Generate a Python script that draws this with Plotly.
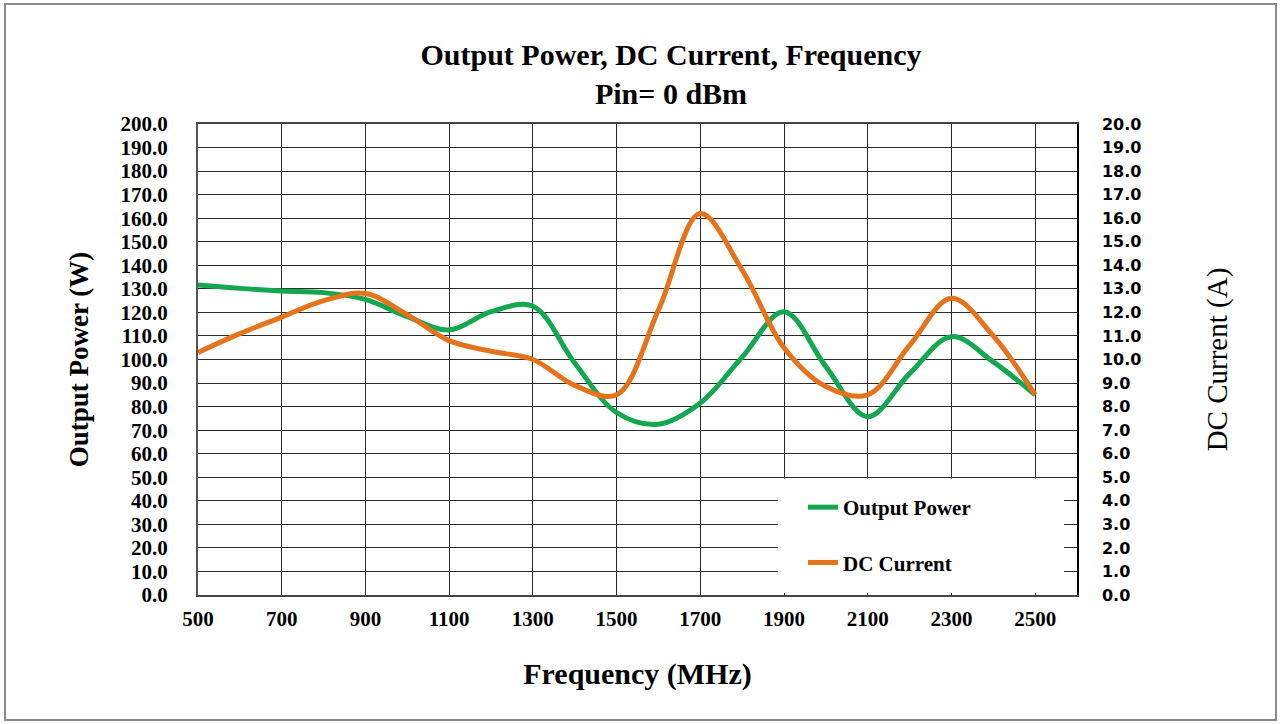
import plotly.graph_objects as go

# ---- data ----
freq_mhz = [500, 600, 700, 800, 900, 1000, 1100, 1200, 1300, 1400, 1500,
            1600, 1700, 1800, 1900, 2000, 2100, 2200, 2300, 2400, 2500]
output_power_w = [131.6, 130.2, 129.1, 128.4, 125.5, 118.2, 112.5, 120.3, 122.6, 98.5, 77.5,
                  72.5, 81.5, 101.0, 120.3, 97.0, 75.7, 94.0, 109.7, 99.0, 85.0]
dc_current_a = [10.3, 11.1, 11.8, 12.5, 12.8, 11.9, 10.8, 10.35, 10.0, 8.9, 8.5,
                12.1, 16.2, 13.8, 10.5, 8.85, 8.5, 10.6, 12.6, 11.0, 8.5]

x_tick_vals = [500, 700, 900, 1100, 1300, 1500, 1700, 1900, 2100, 2300, 2500]
x_tick_text = [str(v) for v in x_tick_vals]

title_text = "Output Power, DC Current, Frequency<br>Pin= 0 dBm"

GREEN = "#13A84F"
ORANGE = "#E5731B"
SERIF = "Liberation Serif"
GRID = "#2a2a2a"

W, H = 1281, 724
L, R, T, B = 198, 204, 124, 129
pw, ph = W - L - R, H - T - B


def px_x(px):
    return (px - L) / pw


def px_y(py):
    return (H - B - py) / ph


fig = go.Figure()
fig.add_trace(go.Scatter(
    x=freq_mhz, y=output_power_w, name="Output Power", legendgroup="p",
    mode="lines", line=dict(color=GREEN, width=5, shape="spline", smoothing=1.0),
    yaxis="y"))
fig.add_trace(go.Scatter(
    x=freq_mhz, y=dc_current_a, name="DC Current", legendgroup="c",
    mode="lines", line=dict(color=ORANGE, width=5, shape="spline", smoothing=1.0),
    yaxis="y2"))

fig.update_layout(
    width=W, height=H,
    margin=dict(l=L, r=R, t=T, b=B, autoexpand=False),
    paper_bgcolor="white", plot_bgcolor="white",
    title=dict(text=title_text, x=px_x(671), xref="paper", xanchor="center",
               y=1 - 65 / H, yref="container", yanchor="middle",
               font=dict(family=SERIF, size=30, color="black", weight="bold")),
    xaxis=dict(range=[500, 2600], dtick=100, tick0=500,
               showgrid=True, gridcolor=GRID, gridwidth=1.2,
               tickmode="array", tickvals=x_tick_vals, ticktext=x_tick_text,
               showline=True, linecolor="#444", linewidth=1.5, mirror=True,
               ticks="", ticklabelstandoff=4,
               tickfont=dict(family=SERIF, size=21, color="black", weight="bold"),
               title=dict(text="Frequency (MHz)", standoff=33,
                          font=dict(family=SERIF, size=30, color="black", weight="bold")),
               zeroline=False),
    yaxis=dict(range=[0, 200], dtick=10, tick0=0, tickformat=".1f",
               showgrid=True, gridcolor=GRID, gridwidth=1.2,
               showline=True, linecolor="#555", linewidth=2, mirror=True,
               ticks="", ticklabelstandoff=24,
               tickfont=dict(family=SERIF, size=21, color="black", weight="bold"),
               title=dict(text="Output Power (W)", standoff=24,
                          font=dict(family=SERIF, size=27, color="black", weight="bold")),
               zeroline=False),
    yaxis2=dict(range=[0, 20], dtick=1, tick0=0, tickformat=".1f",
                overlaying="y", side="right", showgrid=False,
                showline=True, linecolor="black", linewidth=1.5,
                ticks="", ticklabelstandoff=20,
                tickfont=dict(family="DejaVu Sans", size=16, color="black", weight="bold"),
                title=dict(text="DC Current (A)", standoff=66,
                           font=dict(family=SERIF, size=29, color="black")),
                zeroline=False),
    legend=dict(x=px_x(803), xanchor="left", y=px_y(487), yanchor="top",
                bgcolor="rgba(0,0,0,0)", borderwidth=0,
                traceorder="grouped", tracegroupgap=25,
                font=dict(family=SERIF, size=21, color="black", weight="bold")),
    shapes=[
        # white panel behind the legend (hides the grid there; the grid stubs
        # left at the right edge read as the right axis' inside ticks)
        dict(type="rect", xref="paper", yref="paper",
             x0=px_x(778), x1=px_x(1064), y0=px_y(593), y1=px_y(478.5),
             fillcolor="white", line=dict(width=0), layer="above"),
        # outer frame of the picture
        dict(type="rect", xref="paper", yref="paper",
             x0=px_x(5), x1=px_x(1276), y0=px_y(720), y1=px_y(4),
             fillcolor="rgba(0,0,0,0)", line=dict(color="#8a8a8a", width=2),
             layer="above"),
    ],
    showlegend=True,
)

fig.write_html(
    "out.html",
    config={"displayModeBar": False},
    post_script="document.body.style.margin='0';document.body.style.overflow='hidden';",
)
